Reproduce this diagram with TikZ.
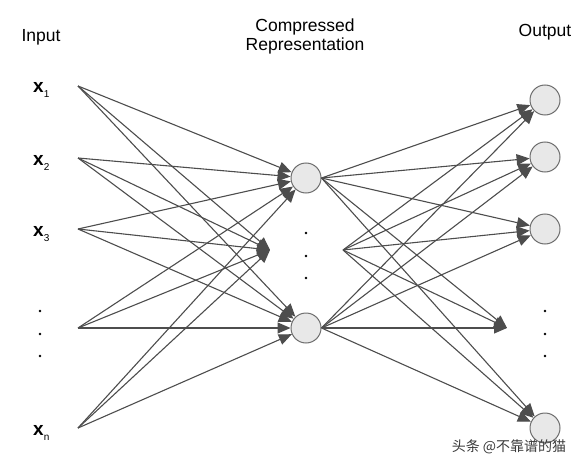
\documentclass[tikz,border=0pt]{standalone}
\usepackage{fontspec}
\setmainfont{Liberation Sans}
\newfontfamily\cjk{Noto Sans CJK SC}
\usepackage{xcolor}
\usepackage{tikz}
\usetikzlibrary{arrows.meta}
\definecolor{wire}{HTML}{4D4D4D}
\definecolor{unitfill}{HTML}{E8E8E8}
\definecolor{unitline}{HTML}{6E6E6E}
\definecolor{wmark}{HTML}{3A3A3A}
\tikzset{
  netEdge/.style={draw=wire, line width=1.1pt, -{Triangle[length=13pt,width=11pt]}},
  unit/.style={circle, draw=unitline, fill=unitfill, line width=1pt, minimum size=30pt, inner sep=0pt},
  headLbl/.style={font=\fontsize{17.5}{20}\selectfont, anchor=base, inner sep=0pt},
  inLbl/.style={font=\fontsize{19}{20}\selectfont, anchor=base west, inner sep=0pt},
  vdot/.style={circle, fill=black, inner sep=0pt, minimum size=2.6pt},
}
\newcommand{\inName}[1]{\textbf{x}\raisebox{-5pt}{\fontsize{10}{10}\selectfont #1}}
\newcommand{\NetCoords}{%
  \coordinate (in1) at (78,86);
  \coordinate (in2) at (78,158);
  \coordinate (in3) at (78,229);
  \coordinate (in4) at (78,328);
  \coordinate (in5) at (78,428);
  \coordinate (h2) at (270,250);
  \coordinate (hsrc) at (343,250);
  \coordinate (o4) at (507,328);
}

\begin{document}
\begin{tikzpicture}[x=1pt, y=-1pt]
  \useasboundingbox (0,0) rectangle (583,468);
  \NetCoords

  % titles
  \node[headLbl] (tIn)   at (41,42)  {Input};
  \node[headLbl] (tComp) at (305,32) {Compressed};
  \node[headLbl] (tRep)  at (305,51) {Representation};
  \node[headLbl] (tOut)  at (545,37) {Output};

  % input labels
  \node[inLbl] (l1) at (33,93)  {\inName{1}};
  \node[inLbl] (l2) at (33,165) {\inName{2}};
  \node[inLbl] (l3) at (33,236) {\inName{3}};
  \node[inLbl] (l5) at (33,435) {\inName{n}};

  % units
  \node[unit] (h1) at (306,178) {};
  \node[unit] (h3) at (306,328) {};
  \node[unit] (o1) at (545,100) {};
  \node[unit] (o2) at (545,157) {};
  \node[unit] (o3) at (545,229) {};
  \node[unit] (o5) at (545,428) {};

  % dots
  \node[vdot] (di1) at (40,311) {};
  \node[vdot] (di2) at (40,334) {};
  \node[vdot] (di3) at (40,356) {};
  \node[vdot] (dh1) at (306,233) {};
  \node[vdot] (dh2) at (306,256) {};
  \node[vdot] (dh3) at (306,278) {};
  \node[vdot] (do1) at (545,311) {};
  \node[vdot] (do2) at (545,334) {};
  \node[vdot] (do3) at (545,356) {};

  % connections
  \foreach \i in {1,...,5}
    \foreach \h in {h1,h2,h3}
      \draw[netEdge] (in\i) -- (\h);
  \foreach \s in {h1.east,hsrc,h3.east}
    \foreach \o in {o1,o2,o3,o4,o5}
      \draw[netEdge] (\s) -- (\o);

  \node[text=wmark, font=\cjk\fontsize{14}{14}\selectfont] (wm) at (509,447) {头条 @不靠谱的猫};
\end{tikzpicture}
\end{document}
